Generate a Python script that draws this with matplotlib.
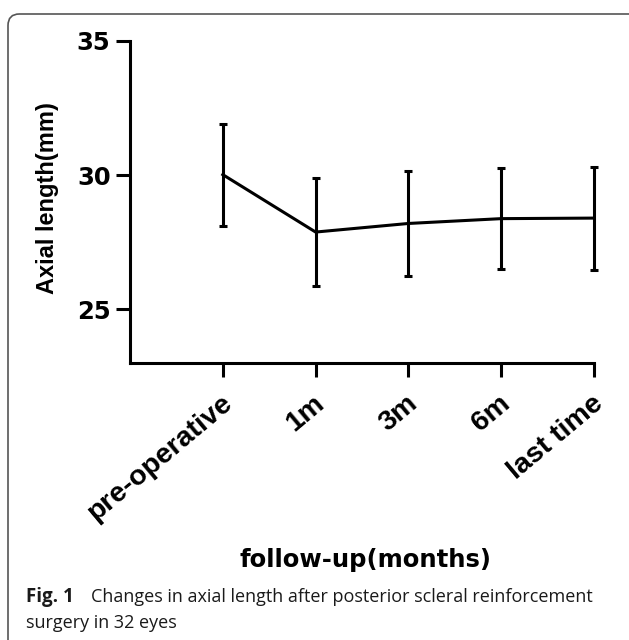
import matplotlib.pyplot as plt
import matplotlib.transforms as mtransforms
from matplotlib.patches import FancyBboxPatch

# values
timepoints = ["pre-operative", "1m", "3m", "6m", "last time"]
axial_mean = [30.02, 27.88, 28.20, 28.38, 28.40]
axial_sd = [1.90, 2.02, 1.94, 1.88, 1.92]
y_ticks = [25, 30, 35]

W, H = 629, 640
plt.rcParams['font.family'] = ['DejaVu Sans']

fig = plt.figure(figsize=(W / 100, H / 100), dpi=100)

# rounded frame around the figure (cut by the right and bottom edges)
frame = FancyBboxPatch((8 / W, -0.05), 1.2, 1.05 - 14 / H,
                       boxstyle="round,pad=0,rounding_size=0.018",
                       transform=fig.transFigure, facecolor='none',
                       edgecolor='#555555', linewidth=1.2)
fig.patches.append(frame)

ax = fig.add_axes([130 / W, 1 - 363 / H, (594 - 130) / W, (363 - 41) / H])

x = list(range(len(timepoints)))
ax.errorbar(x, axial_mean, yerr=axial_sd, color='black', linewidth=2.2,
            elinewidth=2.2, capsize=3, capthick=2.2, clip_on=False)

ax.set_xlim(-1, len(timepoints) - 1)
ax.set_ylim(23, 35)
ax.set_yticks(y_ticks)
ax.set_xticks(x)
ax.set_xticklabels([])
ax.set_yticklabels([str(v) for v in y_ticks], fontsize=17.5, fontweight='bold')

# rotated category labels, placed under each tick
shift = mtransforms.ScaledTranslation(6 / 100, -37 / 100, fig.dpi_scale_trans)
for xi, name in zip(x, timepoints):
    ax.text(xi, 0, name, transform=ax.get_xaxis_transform() + shift,
            rotation=40, ha='right', va='center', rotation_mode='anchor',
            fontsize=20.5, fontweight='bold', family='Liberation Sans')

for side in ['top', 'right']:
    ax.spines[side].set_visible(False)
for side in ['left', 'bottom']:
    ax.spines[side].set_linewidth(2.2)
ax.tick_params(axis='both', width=2.2, length=10, color='black')
ax.tick_params(axis='y', pad=4)

fig.text(48 / W, 1 - 198 / H, "Axial length(mm)", fontsize=17, fontweight='bold',
         rotation=90, ha='center', va='center', family='Liberation Sans')
fig.text(365 / W, 1 - 560 / H, "follow-up(months)", fontsize=17.5,
         fontweight='bold', ha='center', va='center')

# caption
cap_kw = dict(va='center', family='Open Sans', color='#1a1a1a')
fig.text(26 / W, 1 - 597 / H, "Fig. 1", fontsize=13.5, fontweight='bold', **cap_kw)
line1 = fig.text(91 / W, 1 - 597 / H,
                 "Changes in axial length after posterior scleral reinforcement",
                 fontsize=13, **cap_kw)
line2 = fig.text(26 / W, 1 - 623 / H, "surgery in 32 eyes", fontsize=13, **cap_kw)

# fit the caption width to the reference
r = fig.canvas.get_renderer()
w1 = line1.get_window_extent(r).width
size = 13 * (590 - 91) / w1
line1.set_fontsize(size)
line2.set_fontsize(size)

fig.savefig("out.png", dpi=100)
